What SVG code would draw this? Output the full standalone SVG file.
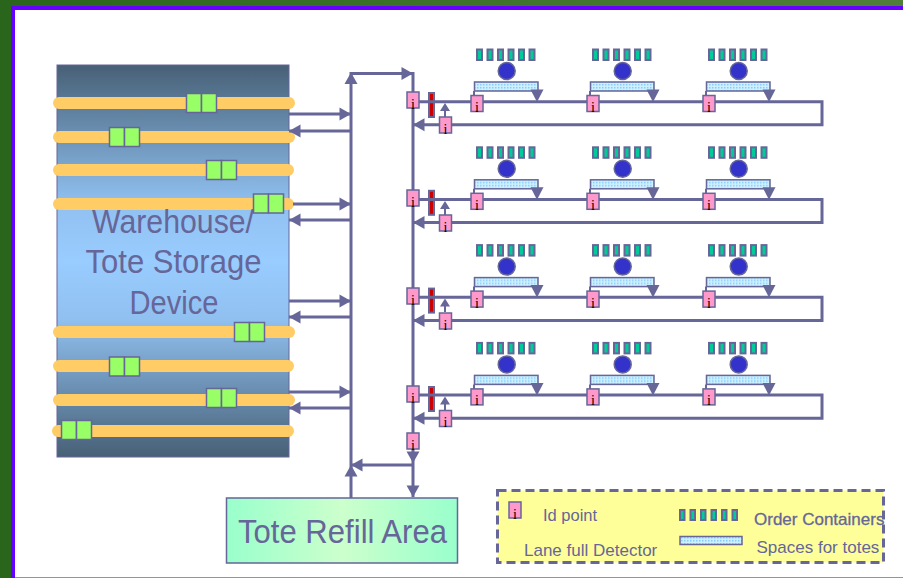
<svg xmlns="http://www.w3.org/2000/svg" xmlns:xlink="http://www.w3.org/1999/xlink" width="903" height="578" viewBox="0 0 903 578">
<style>
.ln{fill:none;stroke:#666699;stroke-width:3}
.thin{fill:none;stroke:#666699;stroke-width:2}
.hd{fill:#666699;stroke:none}
.t{font-family:"Liberation Sans",Arial,sans-serif;fill:#666699}
.bar{fill:#ffcc66}
.gb{fill:#99ff66;stroke:#666699;stroke-width:1.5}
.c{fill:#00cc99;stroke:#666699;stroke-width:2}
.sp{fill:url(#dots);stroke:#666699;stroke-width:1.5}
.idb{fill:#ff99cc;stroke:#666699;stroke-width:1.5}
.idt{font-family:"Liberation Serif",serif;font-size:14px;fill:#000;text-anchor:middle}
.red{fill:#cc0000;stroke:#666699;stroke-width:2}
</style>
<defs>
<linearGradient id="top" x1="0" y1="0" x2="1" y2="0"><stop offset="0" stop-color="#2a651c"/><stop offset="1" stop-color="#4f7f38"/></linearGradient>
<linearGradient id="wh" x1="0" y1="0" x2="0" y2="1"><stop offset="0" stop-color="#476076"/><stop offset="0.35" stop-color="#90c0f0"/><stop offset="0.5" stop-color="#99ccff"/><stop offset="0.65" stop-color="#90c0f0"/><stop offset="1" stop-color="#476076"/></linearGradient>
<linearGradient id="rf" x1="0" y1="0" x2="1" y2="0"><stop offset="0" stop-color="#99ffcc"/><stop offset="0.5" stop-color="#ccffcc"/><stop offset="1" stop-color="#99ffcc"/></linearGradient>
<pattern id="dots" width="3" height="3" patternUnits="userSpaceOnUse"><rect width="3" height="3" fill="#ccf0ff"/><rect width="1.5" height="1.5" fill="#88ccff"/></pattern>
<g id="idp"><rect class="idb" x="-6" y="-8" width="12" height="16"/><text class="idt" x="0" y="8.500">i</text></g>
<g id="pair"><rect class="gb" x="0" y="0" width="15" height="19"/><rect class="gb" x="15" y="0" width="15" height="19"/></g>
<g id="station">
<rect class="c" x="0" y="-52.500" width="5" height="10.500"/><rect class="c" x="10.500" y="-52.500" width="5" height="10.500"/><rect class="c" x="21" y="-52.500" width="5" height="10.500"/><rect class="c" x="31.500" y="-52.500" width="5" height="10.500"/><rect class="c" x="42" y="-52.500" width="5" height="10.500"/><rect class="c" x="52.500" y="-52.500" width="5" height="10.500"/>
<circle cx="29.700" cy="-31" r="8.500" fill="#3333cc" stroke="#666699" stroke-width="1.500"/>
<rect class="sp" x="-2.500" y="-20" width="63.500" height="9"/>
<path class="thin" d="M-3-11V-3"/>
<path class="hd" d="M53.500-12.500H66.500L60 0Z"/>
<use xlink:href="#idp" x="0" y="1.500"/>
</g>
<g id="headL"><path class="hd" d="M0 0L11.500-6.500V6.500Z"/></g>
<g id="headR"><path class="hd" d="M0 0L-11.500-6.500V6.500Z"/></g>
<g id="headD"><path class="hd" d="M0 0L-6.500-11.500H6.500Z"/></g>
<g id="headU"><path class="hd" d="M0 0L-6.500 11.500H6.500Z"/></g>
</defs>

<rect width="903" height="578" fill="#fff"/>
<g id="frame">
<rect x="0" y="0" width="903" height="6" fill="url(#top)"/>
<rect x="0" y="0" width="11" height="578" fill="#2a651c"/>
<rect x="11" y="6" width="892" height="4" fill="#6600ff"/>
<rect x="11" y="6" width="4" height="572" fill="#6600ff"/>
<rect x="15" y="577" width="888" height="1" fill="#a080e0"/>
</g>

<g id="storage">
<rect x="57" y="65" width="232" height="392" fill="url(#wh)" stroke="#666699" stroke-width="1"/>
<g class="bar">
<rect x="53" y="97" width="242" height="12" rx="6"/>
<rect x="53" y="131" width="242" height="12" rx="6"/>
<rect x="53" y="164" width="241" height="12" rx="6"/>
<rect x="53" y="198" width="241" height="12" rx="6"/>
<rect x="53" y="326" width="242" height="12" rx="6"/>
<rect x="53" y="360" width="241" height="12" rx="6"/>
<rect x="53" y="394" width="242" height="12" rx="6"/>
<rect x="52" y="425" width="242" height="12" rx="6"/>
</g>
<use xlink:href="#pair" x="186.500" y="93.500"/>
<use xlink:href="#pair" x="109.500" y="127.500"/>
<use xlink:href="#pair" x="206.500" y="160.500"/>
<use xlink:href="#pair" x="253.500" y="194"/>
<use xlink:href="#pair" x="234.500" y="322.500"/>
<use xlink:href="#pair" x="109.500" y="357"/>
<use xlink:href="#pair" x="206.500" y="388.500"/>
<use xlink:href="#pair" x="61.500" y="420.500"/>
<text class="t" font-size="32.500" x="92" y="233.300" textLength="162" lengthAdjust="spacingAndGlyphs">Warehouse/</text>
<text class="t" font-size="32.500" x="85.500" y="273.300" textLength="176" lengthAdjust="spacingAndGlyphs">Tote Storage</text>
<text class="t" font-size="32.500" x="129.500" y="314.300" textLength="89" lengthAdjust="spacingAndGlyphs">Device</text>
</g>

<g id="detectors">
<rect class="red" x="429" y="93" width="5" height="24"/>
<rect class="red" x="429" y="190.800" width="5" height="24"/>
<rect class="red" x="429" y="288.600" width="5" height="24"/>
<rect class="red" x="429" y="387" width="5" height="24"/>
</g>

<g id="connectors">
<path class="ln" d="M351 498V73.500H413V497"/>
<use xlink:href="#headU" x="351" y="72.500"/>
<use xlink:href="#headR" x="413" y="73.500"/>
<path class="ln" d="M289 114H351M351 131H289M293 204H351M351 220H289M289 301H351M351 317H289M289 392H351M351 408H289M413 465H351"/>
<use xlink:href="#headR" x="351" y="114"/><use xlink:href="#headL" x="289" y="131"/>
<use xlink:href="#headR" x="351" y="204"/><use xlink:href="#headL" x="289" y="220"/>
<use xlink:href="#headR" x="351" y="301"/><use xlink:href="#headL" x="289" y="317"/>
<use xlink:href="#headR" x="351" y="392"/><use xlink:href="#headL" x="289" y="408"/>
<use xlink:href="#headL" x="351" y="465"/>
<use xlink:href="#headU" x="351" y="465"/>
<use xlink:href="#headD" x="413" y="463"/>
<use xlink:href="#headD" x="413" y="497"/>
<path class="ln" d="M413 101.700H822V124.700H413M413 199.500H822V222.500H413M413 297.300H822V320.400H413M413 395H822V418.300H413"/>
<use xlink:href="#headL" x="413" y="124.700"/><use xlink:href="#headL" x="413" y="222.500"/><use xlink:href="#headL" x="413" y="320.400"/><use xlink:href="#headL" x="413" y="418.300"/>
<path class="thin" d="M445 117V108M445 215V206M445 312V303M445 410V401"/>
<path class="hd" d="M445 103L440 111H450ZM445 201L440 209H450ZM445 298.500L440 306.500H450ZM445 396.500L440 404.500H450Z"/>
</g>

<g id="row1">
<use xlink:href="#idp" x="413" y="100"/>
<use xlink:href="#idp" x="445.500" y="125"/>
<use xlink:href="#station" x="477" y="102"/><use xlink:href="#station" x="593" y="102"/><use xlink:href="#station" x="709" y="102"/>
</g>
<g id="row2">
<use xlink:href="#idp" x="413" y="198"/>
<use xlink:href="#idp" x="445.500" y="223"/>
<use xlink:href="#station" x="477" y="199.800"/><use xlink:href="#station" x="593" y="199.800"/><use xlink:href="#station" x="709" y="199.800"/>
</g>
<g id="row3">
<use xlink:href="#idp" x="413" y="296"/>
<use xlink:href="#idp" x="445.500" y="321"/>
<use xlink:href="#station" x="477" y="297.600"/><use xlink:href="#station" x="593" y="297.600"/><use xlink:href="#station" x="709" y="297.600"/>
</g>
<g id="row4">
<use xlink:href="#idp" x="413" y="394"/>
<use xlink:href="#idp" x="445.500" y="418.500"/>
<use xlink:href="#station" x="477" y="395.400"/><use xlink:href="#station" x="593" y="395.400"/><use xlink:href="#station" x="709" y="395.400"/>
</g>
<g id="id-bottom"><use xlink:href="#idp" x="413" y="441"/></g>

<g id="refill">
<rect x="226.500" y="498" width="231" height="65" fill="url(#rf)" stroke="#666699" stroke-width="1.500"/>
<text class="t" font-size="32.500" x="238" y="543.300" textLength="209" lengthAdjust="spacingAndGlyphs">Tote Refill Area</text>
</g>

<g id="legend">
<rect x="497.500" y="490.500" width="386" height="72" fill="#ffff99" stroke="#666699" stroke-width="3" stroke-dasharray="9 5"/>
<use xlink:href="#idp" x="515" y="510"/>
<text class="t" font-size="16.500" x="543" y="520.500">Id point</text>
<text class="t" font-size="17" x="524" y="556">Lane full Detector</text>
<text class="t" font-size="17" x="754" y="524.500" stroke="#666699" stroke-width="0.300">Order Containers</text>
<text class="t" font-size="17" x="756.500" y="553">Spaces for totes</text>
<rect class="c" x="680" y="510" width="4.500" height="10"/><rect class="c" x="690.500" y="510" width="4.500" height="10"/><rect class="c" x="701" y="510" width="4.500" height="10"/><rect class="c" x="711.500" y="510" width="4.500" height="10"/><rect class="c" x="722" y="510" width="4.500" height="10"/><rect class="c" x="732.500" y="510" width="4.500" height="10"/>
<rect class="sp" x="680" y="536.500" width="62" height="8"/>
</g>
</svg>
